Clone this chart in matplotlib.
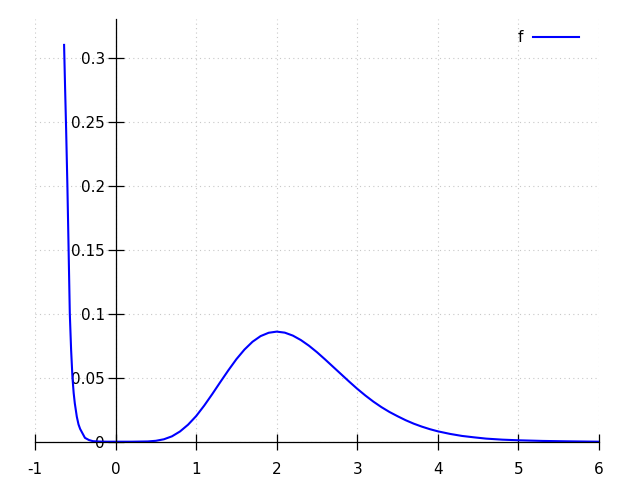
import matplotlib
matplotlib.use("Agg")
import matplotlib.pyplot as plt

plt.rcParams['axes.unicode_minus'] = False
plt.rcParams['font.family'] = ['DejaVu Sans']

# curve values
x_vals = [-0.639, -0.626, -0.614, -0.598, -0.585, -0.568, -0.552, -0.535, -0.52, -0.506,
          -0.481, -0.46, -0.44, -0.411, -0.38, -0.33, -0.28, -0.2, -0.1, 0.0,
          0.2, 0.4, 0.5, 0.6, 0.7, 0.8, 0.9, 1.0, 1.1, 1.2, 1.3, 1.4, 1.5, 1.6, 1.7,
          1.8, 1.9, 2.0, 2.1, 2.2, 2.3, 2.4, 2.5, 2.6, 2.7, 2.8, 2.9, 3.0, 3.1, 3.2,
          3.3, 3.4, 3.5, 3.6, 3.7, 3.8, 3.9, 4.0, 4.15, 4.3, 4.45, 4.6, 4.8, 5.0,
          5.3, 5.6, 6.0]
f_vals = [0.310, 0.275, 0.245, 0.200, 0.157, 0.100, 0.072, 0.050, 0.038, 0.030,
          0.0195, 0.0135, 0.0100, 0.0066, 0.0030, 0.0013, 0.0004, 0.0001, 0.0, 0.0,
          0.0, 0.0002, 0.0007, 0.0019, 0.0042, 0.0080, 0.0133, 0.0200, 0.0282, 0.0372,
          0.0466, 0.0558, 0.0645, 0.0720, 0.0781, 0.0825, 0.0851, 0.0860, 0.0852, 0.0829,
          0.0794, 0.0750, 0.0699, 0.0643, 0.0585, 0.0527, 0.0469, 0.0413, 0.0361, 0.0313,
          0.0270, 0.0232, 0.0199, 0.0168, 0.0141, 0.0118, 0.0098, 0.0081, 0.0061, 0.0045,
          0.0034, 0.0024, 0.0016, 0.0011, 0.0006, 0.0003, 0.0]

x_ticks = [-1, 0, 1, 2, 3, 4, 5, 6]
x_tick_labels = ["-1", "0", "1", "2", "3", "4", "5", "6"]
y_ticks = [0, 0.05, 0.1, 0.15, 0.2, 0.25, 0.3]
y_tick_labels = ["0", "0.05", "0.1", "0.15", "0.2", "0.25", "0.3"]

fig = plt.figure(figsize=(6.4, 4.8), dpi=100)
ax = fig.add_axes([35/640, (480-441.7)/480, 564/640, 422.4/480])

ax.plot(x_vals, f_vals, color='#0000ff', lw=1.5, label='f', zorder=2)

ax.set_xlim(-1, 6)
ax.set_ylim(0, 0.33)

ax.spines['top'].set_visible(False)
ax.spines['right'].set_visible(False)
ax.spines['left'].set_position(('data', 0))
ax.spines['bottom'].set_position(('data', 0))
for s in ('left', 'bottom'):
    ax.spines[s].set_linewidth(0.9)
    ax.spines[s].set_zorder(3)

ax.set_xticks(x_ticks)
ax.set_xticklabels(x_tick_labels)
ax.set_yticks(y_ticks)
ax.set_yticklabels(y_tick_labels)
ax.tick_params(axis='both', direction='inout', length=11.5, width=0.9,
               labelsize=11, colors='black')
ax.tick_params(axis='x', pad=9)
ax.tick_params(axis='y', pad=2)

ax.grid(True, color='#c8c8c8', linestyle=(0, (1, 3)), linewidth=0.8, zorder=0)

leg = ax.legend(loc='center right', bbox_to_anchor=(0.9645, 0.957), frameon=False,
                markerfirst=False, handlelength=3.0, handletextpad=0.65,
                borderpad=0, borderaxespad=0, fontsize=11)

fig.savefig('out.png', dpi=100)
